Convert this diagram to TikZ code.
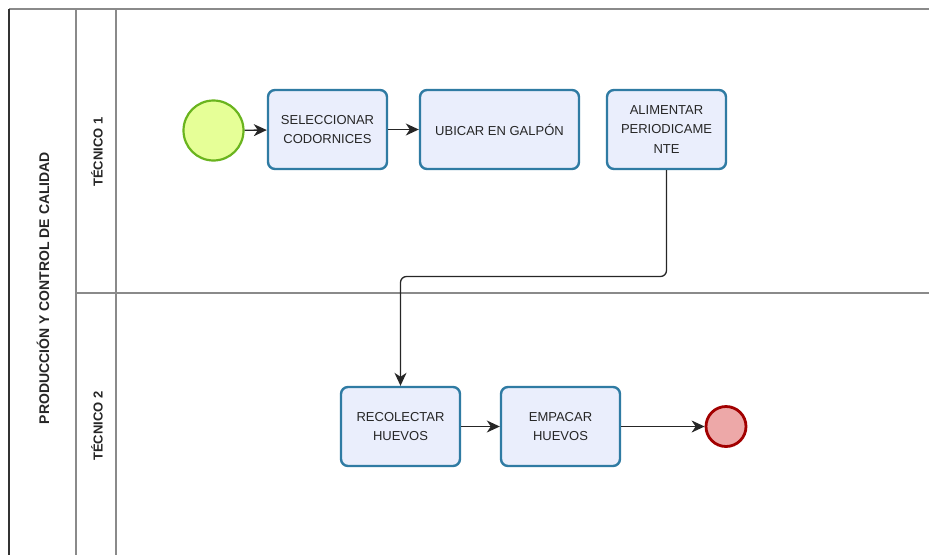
\documentclass[tikz,border=0pt]{standalone}
\usepackage{fontspec}
\setmainfont{Liberation Sans}
\usetikzlibrary{arrows.meta}
\definecolor{taskfill}{HTML}{EAEEFC}
\definecolor{taskline}{HTML}{2F7BA3}
\definecolor{startfill}{HTML}{E6FF97}
\definecolor{startline}{HTML}{6AB41E}
\definecolor{endfill}{HTML}{EDA8A8}
\definecolor{endline}{HTML}{A20000}
\definecolor{laneline}{HTML}{8A8A8A}
\tikzset{
  taskbox/.style={draw=taskline, fill=taskfill, line width=2.4pt, rounded corners=7pt,
    minimum width=119pt, minimum height=79pt, align=center, inner sep=0pt,
    font=\fontsize{13}{19.5}\selectfont, text=black!85},
  startev/.style={circle, draw=startline, fill=startfill, line width=2.2pt, minimum size=60pt, inner sep=0pt},
  endev/.style={circle, draw=endline, fill=endfill, line width=2.8pt, minimum size=40pt, inner sep=0pt},
  flow/.style={draw=black!85, line width=1.3pt, -{Stealth[length=13pt,width=12pt,inset=4pt]}},
  lanelabel/.style={rotate=90, font=\bfseries\fontsize{13}{15}\selectfont, text=black!85},
  borderline/.style={draw=laneline, line width=1.2pt}
}
\begin{document}
\begin{tikzpicture}[x=1pt,y=-1pt]
\useasboundingbox (0,0) rectangle (929,555);
% pool and lanes
\coordinate (pTL) at (9,9);
\coordinate (pBL) at (9,555);
\coordinate (pTR) at (929,9);
\draw[borderline] (pTL) -- (pTR);
\draw[draw=black!80, line width=1.4pt] (pTL) -- (pBL);
\draw[borderline] (76,9) -- (76,555);
\draw[borderline] (116,9) -- (116,555);
\draw[borderline] (76,293) -- (929,293);
\node[lanelabel, font=\bfseries\fontsize{14}{16}\selectfont] (pool) at (43,288) {PRODUCCIÓN Y CONTROL DE CALIDAD};
\node[lanelabel] (lane1) at (97,152) {TÉCNICO 1};
\node[lanelabel] (lane2) at (97,426) {TÉCNICO 2};
% events and tasks
\node[startev] (start) at (213.5,130.5) {};
\node[taskbox] (t1) at (327.5,129.5) {SELECCIONAR\\CODORNICES};
\node[taskbox, minimum width=159pt] (t2) at (499.5,129.5) {UBICAR EN GALPÓN};
\node[taskbox] (t3) at (666.5,129.5) {ALIMENTAR\\PERIODICAME\\NTE};
\node[taskbox] (t4) at (400.5,426.5) {RECOLECTAR\\HUEVOS};
\node[taskbox] (t5) at (560.5,426.5) {EMPACAR\\HUEVOS};
\node[endev] (end) at (726,426.5) {};
% flows
\draw[flow] (start) -- (t1);
\draw[flow] (t1) -- (t2);
\draw[flow, rounded corners=6pt] (t3.south) -- (666.5,276.5) -- (400.5,276.5) -- (t4.north);
\draw[flow] (t4) -- (t5);
\draw[flow] (t5) -- (end);
\end{tikzpicture}
\end{document}
